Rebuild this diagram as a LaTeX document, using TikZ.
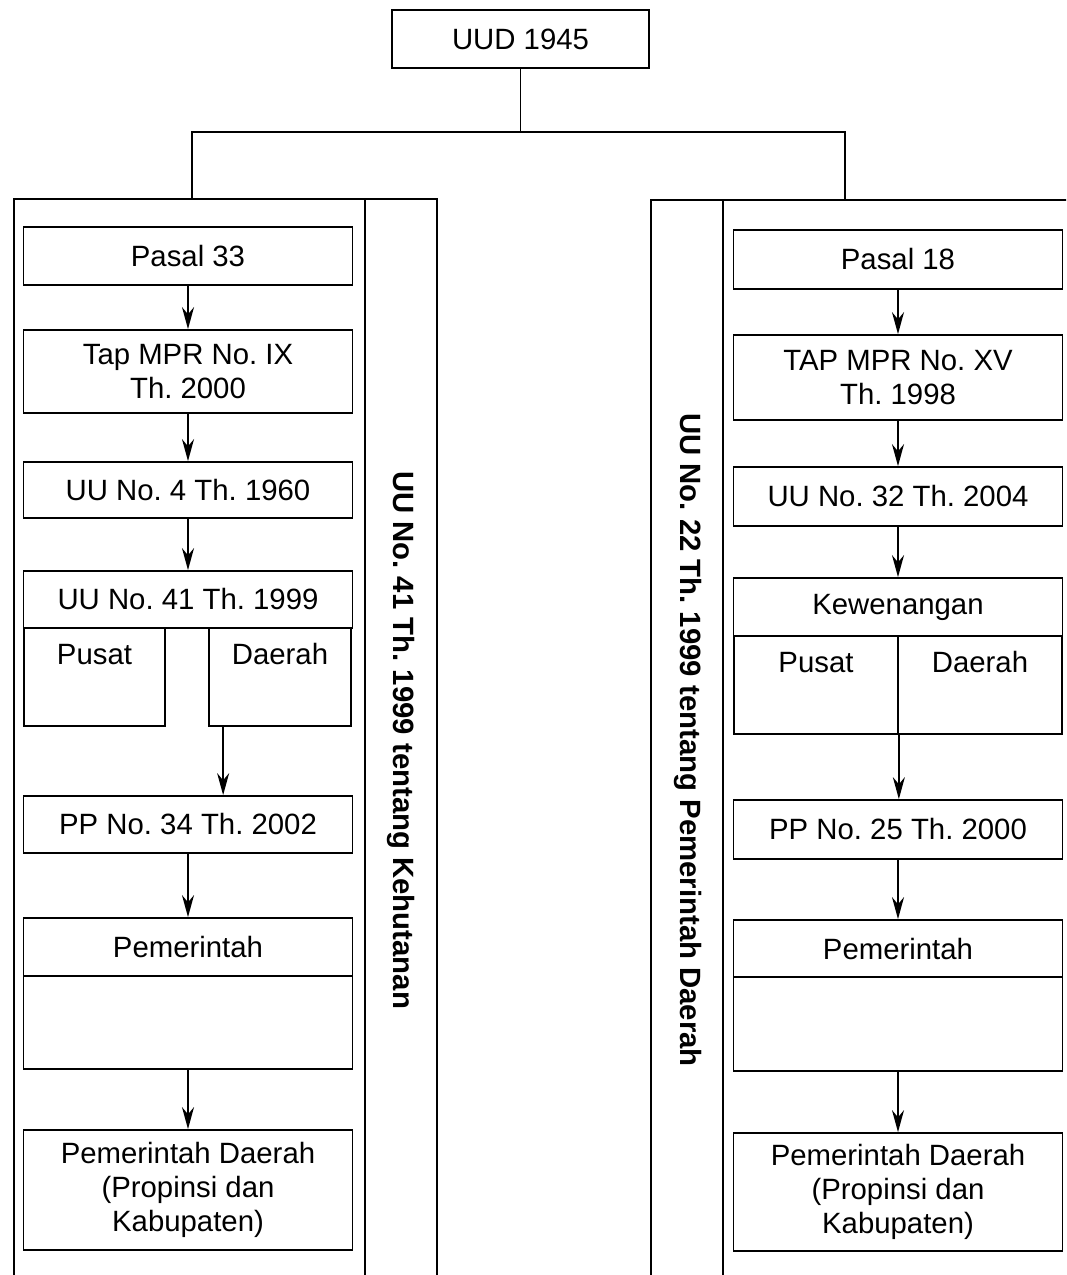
\documentclass[tikz,border=0pt]{standalone}
\usepackage{fontspec}
\setmainfont{Liberation Sans}
\usepackage{tikz}
\usetikzlibrary{calc,arrows.meta}

\begin{document}
\begin{tikzpicture}[x=0.02cm,y=-0.02cm,
  every node/.style={font=\fontsize{16.7}{19.5}\selectfont\frenchspacing, inner sep=0pt},
  box/.style={draw, line width=1pt, minimum width=6.58cm, align=center},
  half/.style={draw, line width=1pt, text height=0.72cm, text depth=1.24cm},
  frame/.style={draw, line width=0.9pt, minimum height=22cm},
  side/.style={font=\fontsize{16.7}{19.5}\selectfont\frenchspacing\bfseries, rotate=-90},
  arr/.style={-{Stealth[length=0.44cm,width=0.24cm]}, line width=1.1pt}]
  \useasboundingbox (0,0) rectangle (1066,1275);
  \clip (0,0) rectangle (1066,1275);
  \node[box, minimum width=5.14cm, minimum height=1.16cm] (0) at (520.5,39) {UUD 1945};
  \coordinate (27) at (520.5,132);
  \coordinate (28) at (192,198);
  \coordinate (29) at (845,200);
  \node[frame, minimum width=8.46cm] (21) at (225.5,749) {};
  \node[frame, minimum width=1.44cm] (22) at (401,749) {};
  \node[side] (23) at (401,740) {UU No. 41 Th. 1999 tentang Kehutanan};
  \node[frame, minimum width=8.48cm] (24) at (863,750) {};
  \node[frame, minimum width=1.44cm] (25) at (687,750) {};
  \node[side] (26) at (688,740) {UU No. 22 Th. 1999 tentang Pemerintah Daerah};
    \node[box, minimum height=1.16cm] (1) at (188,256) {Pasal 33};
  \node[box, minimum height=1.66cm] (2) at (188,371.5) {Tap MPR No. IX\\Th. 2000};
  \node[box, minimum height=1.12cm] (3) at (188,490) {UU No. 4 Th. 1960};
  \node[box, minimum height=1.14cm] (4) at (188,599.5) {UU No. 41 Th. 1999};
  \node[half, minimum width=2.82cm] (5) at (94.5,677) {Pusat};
  \node[half, minimum width=2.84cm] (6) at (280,677) {Daerah};
  \node[box, minimum height=1.14cm] (7) at (188,824.5) {PP No. 34 Th. 2002};
  \node[box, minimum height=1.16cm] (8) at (188,947) {Pemerintah};
  \node[box, minimum height=1.86cm] (9) at (188,1022.5) {};
  \node[box, minimum height=2.4cm] (10) at (188,1190) {Pemerintah Daerah\\(Propinsi dan\\Kabupaten)};
    \node[box, minimum height=1.18cm] (11) at (898,259.5) {Pasal 18};
  \node[box, minimum height=1.7cm] (12) at (898,377.5) {TAP MPR No. XV\\Th. 1998};
  \node[box, minimum height=1.18cm] (13) at (898,496.5) {UU No. 32 Th. 2004};
  \node[box, minimum height=1.16cm] (14) at (898,607) {Kewenangan};
  \node[half, minimum width=3.28cm] (15) at (816,685) {Pusat};
  \node[half, minimum width=3.28cm] (16) at (980,685) {Daerah};
  \node[box, minimum height=1.18cm] (17) at (898,829.5) {PP No. 25 Th. 2000};
  \node[box, minimum height=1.14cm] (18) at (898,948.5) {Pemerintah};
  \node[box, minimum height=1.88cm] (19) at (898,1024) {};
  \node[box, minimum height=2.36cm] (20) at (898,1192) {Pemerintah Daerah\\(Propinsi dan\\Kabupaten)};
  \coordinate (30) at ($(6.south west)+(15,0)$);
 \draw[line width=1pt] (0.south)--(27);
 \draw[line width=1pt] (28) |- (27) -| (29);
  \draw[arr] (1)--(2);
  \draw[arr] (2)--(3);
  \draw[arr] (3)--(4);
  \draw[arr] (30)--(30 |- 7.north);
  \draw[arr] (7)--(8);
  \draw[arr] (9)--(10);
  \draw[arr] (11)--(12);
  \draw[arr] (12)--(13);
  \draw[arr] (13)--(14);
  \draw[arr] (15.south east)--(15.south east |- 17.north);
  \draw[arr] (17)--(18);
  \draw[arr] (19)--(20);
\end{tikzpicture}
\end{document}
